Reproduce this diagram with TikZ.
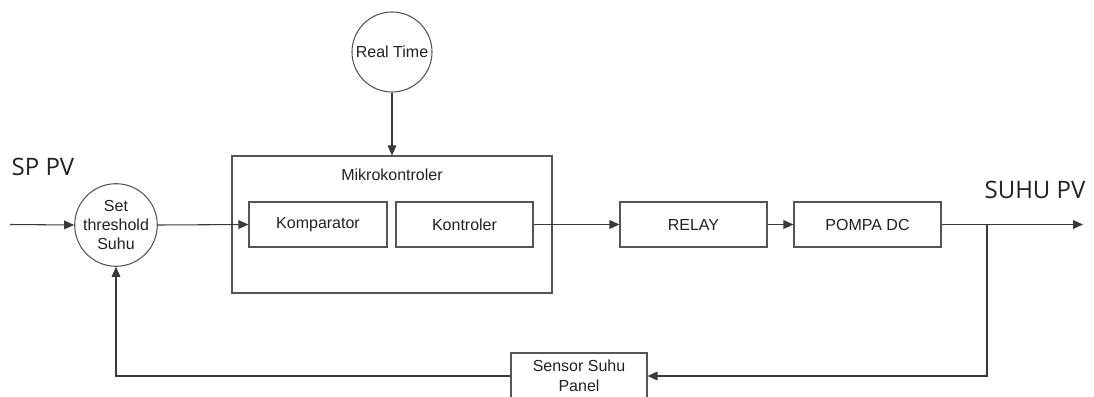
\documentclass[tikz,border=0pt]{standalone}
\usepackage{fontspec}
\setmainfont{Liberation Sans}
\newfontfamily\bigfont{Open Sans}
\usetikzlibrary{arrows.meta}
\definecolor{linec}{HTML}{3A3A3A}
\definecolor{boxc}{HTML}{555555}
\definecolor{txtc}{HTML}{222222}
\tikzset{
  conn/.style={draw=linec, line width=0.8pt, -{Triangle[length=7.5pt,width=6.5pt]}},
  plain/.style={draw=linec, line width=0.8pt},
  blk/.style={draw=boxc, line width=0.8pt, rectangle, inner sep=0pt, minimum height=33.75pt, text=txtc, font=\fontsize{12pt}{14.6pt}\selectfont, align=center},
  circ/.style={draw=boxc, line width=0.8pt, circle, inner sep=0pt, text=txtc, font=\fontsize{12pt}{14.6pt}\selectfont, align=center},
  big/.style={inner sep=0pt, text=txtc, font=\bigfont\fontsize{18pt}{21pt}\selectfont}
}
\begin{document}
\begin{tikzpicture}[x=0.75pt,y=-0.75pt]
\clip (0,0) rectangle (1094,396);
\fill[white] (0,0) rectangle (1094,396);
% nodes
\node[circ, minimum size=61.5pt] (sp) at (116,225) {Set\\threshold\\Suhu};
\node[circ, minimum size=60pt] (rt) at (392,52) {Real Time};
\node[blk, minimum width=240pt, minimum height=102.75pt] (mk) at (392,224.5) {};
\node[inner sep=0pt, text=txtc, font=\fontsize{12pt}{14pt}\selectfont] (mklabel) at (392,175) {Mikrokontroler};
\node[blk, minimum width=103.5pt] (komp) at (318,224.5) {Komparator};
\node[blk, minimum width=102.75pt] (kont) at (464.5,224.5) {Kontroler};
\node[blk, minimum width=110.25pt] (relay) at (693.5,224.5) {RELAY};
\node[blk, minimum width=110.25pt] (pompa) at (867.5,224.5) {POMPA DC};
\node[blk, minimum width=102pt, minimum height=34.5pt, font=\fontsize{12pt}{15pt}\selectfont] (sensor) at (579,376) {Sensor Suhu\\Panel};
\node[big] (sppv) at (43,167) {SP PV};
\node[big] (suhupv) at (1035,190) {SUHU PV};
% coordinates
\coordinate (in) at (10,224.5);
\coordinate (out) at (1083,224.5);
\coordinate (split) at (987,224.5);
\coordinate (corner) at (987,376);
% connectors
\draw[conn] (in) -- (sp.west);
\draw[conn] (sp.east) -- (komp.west);
\draw[conn] (rt.south) -- (mk.north);
\draw[conn] (kont.east) -- (relay.west);
\draw[conn] (relay.east) -- (pompa.west);
\draw[conn] (pompa.east) -- (out);
\draw[conn] (split) -- (corner) -- (sensor.east);
\draw[conn] (sensor.west) -| (sp.south);
\end{tikzpicture}
\end{document}
